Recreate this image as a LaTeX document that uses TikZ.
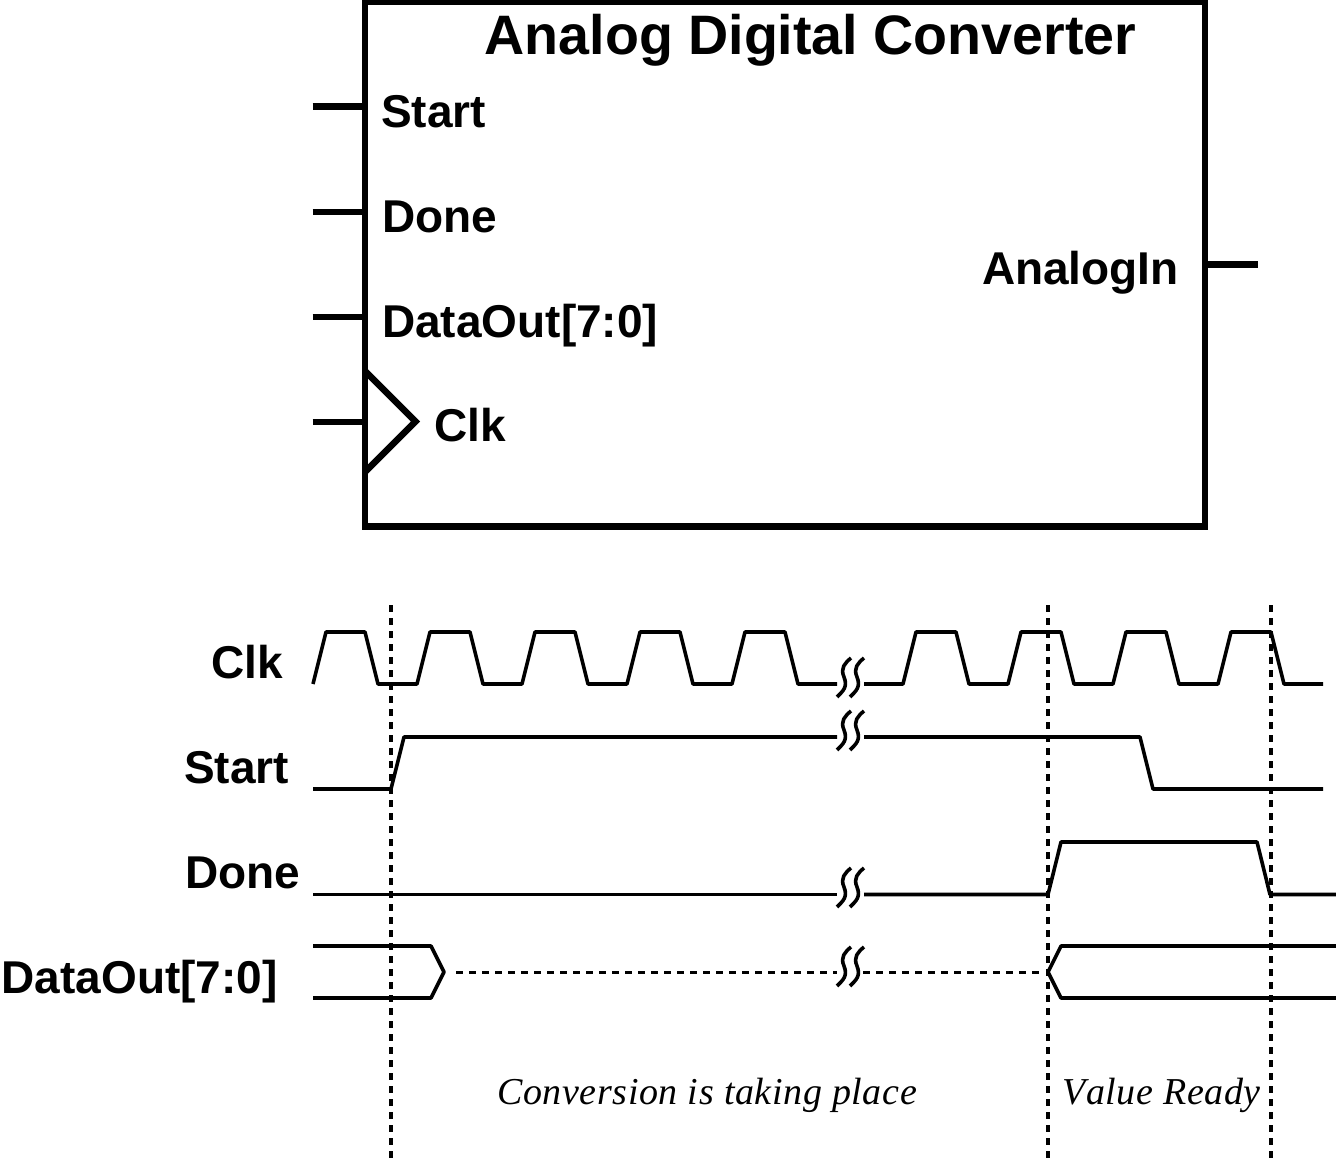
\documentclass[tikz,border=0pt]{standalone}
\usepackage{fontspec}
\setmainfont{Liberation Sans}
\newfontfamily\serifit[LetterSpace=1.6,Kerning=Off]{Liberation Serif}
\tikzset{
  x=1pt,y=-1pt,
  boxline/.style={line width=6.6pt,line join=miter},
  pinline/.style={line width=6.6pt},
  wave/.style={line width=3.6pt,line join=round},
  guide/.style={line width=3.6pt,dash pattern=on 6.7pt off 6.3pt},
  label/.style={inner sep=0pt,font=\fontsize{46}{46}\selectfont\bfseries},
  title/.style={inner sep=0pt,font=\fontsize{55.6}{55.6}\selectfont\bfseries},
  note/.style={inner sep=0pt,font=\fontsize{38}{38}\serifit\itshape},
}
\newcommand{\breakmark}[2]{%
  \foreach \dx in {0,13}{
    \draw[wave,shift={(#1+\dx,#2)}] (-7,20) .. controls (-1,14) and (4,10) .. (0,0) .. controls (-4,-9) and (1,-14) .. (7,-19);
  }%
}
\begin{document}
\begin{tikzpicture}
\useasboundingbox (0,0) rectangle (1336,1158);
% block
\draw[boxline] (365,1.8) rectangle (1205,526.5);
\draw[boxline] (365,371) -- (415.5,421.5) -- (365,472);
\coordinate (pStartI) at (365,106.5); \coordinate (pStartO) at (312.5,106.5);
\coordinate (pDoneI) at (365,212); \coordinate (pDoneO) at (312.5,212);
\coordinate (pDataI) at (365,317); \coordinate (pDataO) at (312.5,317);
\coordinate (pClkI) at (365,422); \coordinate (pClkO) at (312.5,422);
\coordinate (pAnaI) at (1205,264.5); \coordinate (pAnaO) at (1258,264.5);
\draw[pinline] (pStartO) -- (pStartI);
\draw[pinline] (pDoneO) -- (pDoneI);
\draw[pinline] (pDataO) -- (pDataI);
\draw[pinline] (pClkO) -- (pClkI);
\draw[pinline] (pAnaI) -- (pAnaO);
\node[title,anchor=base] (ttl) at (810.5,54.5) {Analog Digital Converter};
\node[label,anchor=base west] (lStart) at (381,127.5) {Start};
\node[label,anchor=base west] (lDone) at (382,232.5) {Done};
\node[label,anchor=base west] (lData) at (382,337.5) {DataOut[7:0]};
\node[label,anchor=base west] (lClk) at (434,441.5) {Clk};
\node[label,anchor=base east] (lAna) at (1179,285) {AnalogIn};
% guides
\draw[guide] (391,605) -- (391,1158);
\draw[guide] (1048,605) -- (1048,1158);
\draw[guide] (1271,605) -- (1271,1158);
% signal names
\node[label,anchor=base west] (sClk) at (211,678) {Clk};
\node[label,anchor=base west] (sStart) at (184,783) {Start};
\node[label,anchor=base west] (sDone) at (185,888) {Done};
\node[label,anchor=base west] (sData) at (1.5,993) {DataOut[7:0]};
% Clk
\draw[wave] (313,684) -- (326,632) -- (365,632) -- (378,684) -- (417,684) -- (430,632) -- (470,632) -- (483,684) -- (522,684) -- (535,632) -- (575,632) -- (588,684) -- (627,684) -- (640,632) -- (680,632) -- (693,684) -- (732,684) -- (745,632) -- (785,632) -- (798,684) -- (837,684);
\draw[wave] (864,684) -- (903,684) -- (916,632) -- (956,632) -- (969,684) -- (1008,684) -- (1021,632) -- (1061,632) -- (1074,684) -- (1113,684) -- (1126,632) -- (1166,632) -- (1179,684) -- (1218,684) -- (1231,632) -- (1271,632) -- (1284,684) -- (1323,684);
\breakmark{844}{677}
% Start
\draw[wave] (313,789) -- (391,789) -- (404,737) -- (837,737);
\draw[wave] (864,737) -- (1140,737) -- (1153,789) -- (1323,789);
\breakmark{844}{730}
% Done
\draw[wave] (313,894.5) -- (837,894.5);
\draw[wave] (864,894.5) -- (1048,894.5) -- (1061,842) -- (1257,842) -- (1270,894.5) -- (1336,894.5);
\breakmark{844}{887}
% DataOut
\draw[wave] (313,946) -- (431,946) -- (444,972) -- (431,998) -- (313,998);
\draw[wave] (1336,946) -- (1061,946) -- (1048,972) -- (1061,998) -- (1336,998);
\draw[guide] (456,972.5) -- (837,972.5);
\draw[guide] (863,972.5) -- (1042,972.5);
\breakmark{844}{966}
% notes
\node[note,anchor=base west] (nConv) at (497,1104) {Conversion is taking place};
\node[note,anchor=base west] (nVal) at (1062,1104) {Value Ready};
\end{tikzpicture}
\end{document}
